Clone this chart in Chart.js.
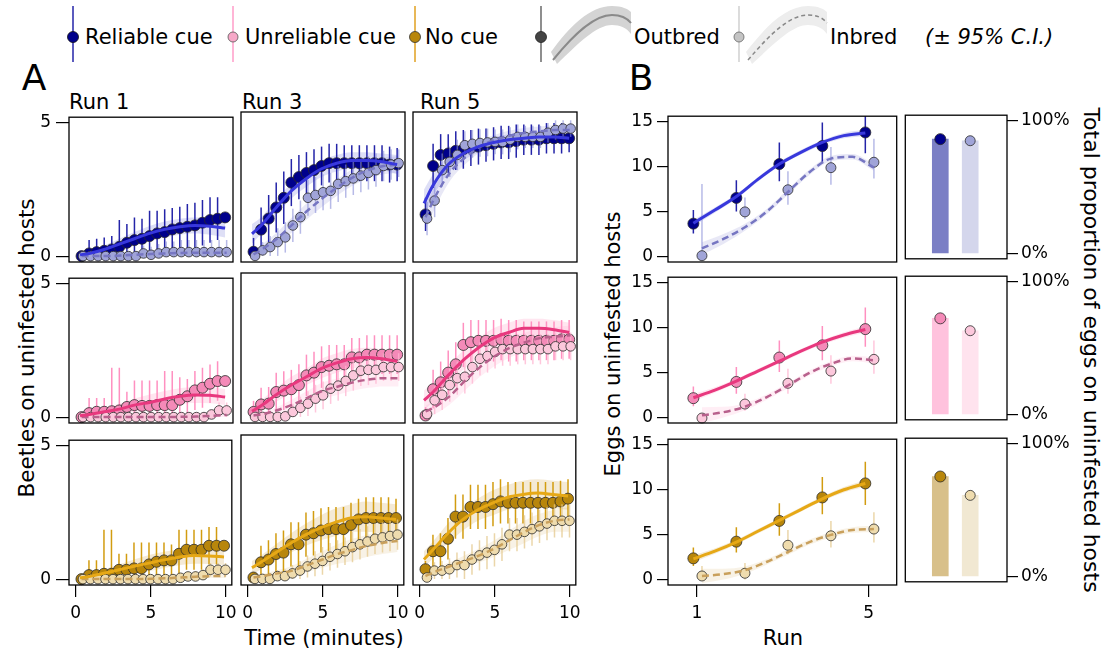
<!DOCTYPE html>
<html>
<head>
<meta charset="utf-8">
<script src="https://cdn.jsdelivr.net/npm/chart.js@4.4.1/dist/chart.umd.min.js"></script>
<style>
  body { margin: 0; width: 1106px; height: 655px; background: #fff; position: relative; overflow: hidden; font-family: "DejaVu Sans", sans-serif; }
  canvas { position: absolute; }
  .t { position: absolute; white-space: nowrap; color: #000; line-height: 1; }
  .c { transform: translate(-50%, -50%); }
  .l { transform: translateY(-50%); }
</style>
</head>
<body>

<svg width="1106" height="66" style="position:absolute;left:0;top:0">
  <line x1="73" y1="6" x2="73" y2="62" stroke="#2424a8" stroke-width="1.5"/>
  <circle cx="73" cy="37" r="5.5" fill="#00008b" stroke="#111" stroke-width="0.8"/>
  <line x1="233" y1="6" x2="233" y2="62" stroke="#ff9cc8" stroke-width="1.5"/>
  <circle cx="233" cy="37" r="5" fill="#f7a8c8" stroke="#555" stroke-width="0.8"/>
  <line x1="415" y1="6" x2="415" y2="62" stroke="#e0a020" stroke-width="1.5"/>
  <circle cx="415" cy="37" r="5.5" fill="#b8860b" stroke="#333" stroke-width="0.8"/>
  <line x1="541" y1="6" x2="541" y2="62" stroke="#444" stroke-width="1.2"/>
  <circle cx="541" cy="37" r="5.5" fill="#444" stroke="#222" stroke-width="0.8"/>
  <path d="M551,52 C570,26 590,6 612,6 C622,6 628,9 631,12 L631,34 C627,28 620,25 612,25 C596,25 578,44 557,64 Z" fill="#d4d4d4"/>
  <path d="M553,60 C574,34 594,15 612,15 C621,15 627,18 631,23" fill="none" stroke="#8a8a8a" stroke-width="2"/>
  <line x1="739" y1="6" x2="739" y2="62" stroke="#c4c4c4" stroke-width="1.2"/>
  <circle cx="739" cy="37" r="5" fill="#c4c4c4" stroke="#666" stroke-width="0.8"/>
  <path d="M746,52 C766,26 786,6 808,6 C818,6 824,9 827,12 L827,34 C823,28 816,25 808,25 C792,25 774,44 752,64 Z" fill="#ededed"/>
  <path d="M748,60 C770,34 790,15 808,15 C817,15 823,18 827,23" fill="none" stroke="#888" stroke-width="1.5" stroke-dasharray="4,3"/>
</svg>
<div class="t l" style="left:85px;top:37px;font-size:21px">Reliable cue</div>
<div class="t l" style="left:245px;top:37px;font-size:21px">Unreliable cue</div>
<div class="t l" style="left:425px;top:37px;font-size:21px">No cue</div>
<div class="t l" style="left:634px;top:37px;font-size:21px">Outbred</div>
<div class="t l" style="left:830px;top:37px;font-size:21px">Inbred</div>
<div class="t l" style="left:925px;top:37px;font-size:21px;font-style:italic">(± 95% C.I.)</div>

<div class="t c" style="left:34px;top:78px;font-size:36px">A</div>
<div class="t c" style="left:641px;top:78px;font-size:36px">B</div>
<div class="t l" style="left:69px;top:102px;font-size:21px">Run 1</div>
<div class="t l" style="left:242px;top:102px;font-size:21px">Run 3</div>
<div class="t l" style="left:420px;top:102px;font-size:21px">Run 5</div>
<div class="t c" style="left:324px;top:638px;font-size:21px">Time (minutes)</div>
<div class="t c" style="left:783px;top:638px;font-size:21px">Run</div>
<div class="t c" style="left:27px;top:348px;font-size:21.5px;transform:translate(-50%,-50%) rotate(-90deg)">Beetles on uninfested hosts</div>
<div class="t c" style="left:613px;top:344px;font-size:21px;transform:translate(-50%,-50%) rotate(-90deg)">Eggs on uninfested hosts</div>
<div class="t c" style="left:1091px;top:350px;font-size:22px;transform:translate(-50%,-50%) rotate(90deg)">Total proportion of eggs on uninfested hosts</div>

<script>
// ---- panel A: time points (minutes) and fitted-curve sample times
const times = [0.5, 1, 1.5, 2, 2.5, 3, 3.5, 4, 4.5, 5, 5.5, 6, 6.5, 7, 7.5, 8, 8.5, 9, 9.5, 10];
const fitTimes = [0.4, 1, 2, 3, 4, 5, 6, 7, 8, 9, 10];

// reliable cue
const relOut1 = [0, 0.1, 0.15, 0.2, 0.25, 0.35, 0.5, 0.6, 0.65, 0.75, 0.85, 0.9, 1.0, 1.05, 1.1, 1.15, 1.25, 1.35, 1.4, 1.45];
const relIn1 = [0, 0, 0, 0, 0, 0, 0, 0, 0.1, 0.05, 0.1, 0.15, 0.15, 0.15, 0.15, 0.15, 0.15, 0.15, 0.15, 0.15];
const relOutErr1 = [0.1, 0.5, 0.5, 0.5, 0.5, 1.0, 0.7, 0.85, 0.75, 0.95, 0.85, 0.85, 0.8, 0.8, 0.85, 0.85, 0.85, 0.85, 0.8, 0.1];
const relInErr1 = [0, 0, 0, 0, 0, 0, 0, 0.1, 0.3, 0.3, 0.35, 0.4, 0.4, 0.45, 0.45, 0.45, 0.45, 0.45, 0.45, 0.45];
const relOutFit1 = [0.05, 0.1, 0.25, 0.45, 0.65, 0.85, 1.0, 1.1, 1.15, 1.12, 1.05];
const relInFit1 = [0, 0, 0, 0.02, 0.05, 0.08, 0.1, 0.12, 0.13, 0.13, 0.13];
const relOutCI1 = [0.1, 0.12, 0.15, 0.2, 0.25, 0.28, 0.3, 0.3, 0.3, 0.32, 0.35];
const relInCI1 = [0.02, 0.02, 0.03, 0.04, 0.05, 0.06, 0.07, 0.08, 0.08, 0.08, 0.08];

const relOut3 = [0.15, 0.95, 1.35, 1.75, 2.1, 2.65, 2.85, 3.0, 3.1, 3.25, 3.35, 3.35, 3.35, 3.35, 3.35, 3.35, 3.35, 3.35, 3.3, 3.3];
const relIn3 = [0, 0.2, 0.32, 0.5, 0.67, 1.1, 1.4, 2.1, 2.2, 2.3, 2.35, 2.6, 2.7, 2.8, 2.9, 3.0, 3.1, 3.25, 3.3, 3.35];
const relOutErr3 = [0.5, 0.8, 0.85, 0.9, 0.95, 0.85, 0.8, 0.75, 0.75, 0.7, 0.7, 0.7, 0.65, 0.65, 0.65, 0.65, 0.65, 0.65, 0.65, 0.6];
const relInErr3 = [0.1, 0.3, 0.4, 0.5, 0.55, 0.6, 0.6, 0.65, 0.65, 0.65, 0.65, 0.65, 0.6, 0.6, 0.6, 0.6, 0.6, 0.55, 0.55, 0.5];
const relOutFit3 = [0.8, 1.1, 1.75, 2.35, 2.8, 3.15, 3.35, 3.45, 3.45, 3.4, 3.3];
const relInFit3 = [0.05, 0.25, 0.65, 1.15, 1.65, 2.1, 2.5, 2.85, 3.1, 3.25, 3.3];
const relOutCI3 = [0.35, 0.3, 0.28, 0.28, 0.3, 0.3, 0.3, 0.3, 0.3, 0.3, 0.35];
const relInCI3 = [0.15, 0.18, 0.22, 0.27, 0.3, 0.3, 0.3, 0.3, 0.3, 0.3, 0.3];

const relOut5 = [1.5, 3.25, 3.65, 3.7, 3.8, 3.85, 3.9, 3.95, 4.0, 4.05, 4.1, 4.1, 4.15, 4.2, 4.2, 4.2, 4.25, 4.25, 4.25, 4.25];
const relIn5 = [1.35, 2.0, 3.1, 3.4, 3.65, 4.0, 4.05, 4.08, 4.1, 4.12, 4.12, 4.2, 4.3, 4.3, 4.3, 4.3, 4.45, 4.55, 4.6, 4.6];
const relOutErr5 = [0.6, 0.8, 0.75, 0.7, 0.7, 0.7, 0.65, 0.65, 0.6, 0.6, 0.6, 0.6, 0.6, 0.55, 0.55, 0.55, 0.55, 0.55, 0.55, 0.5];
const relInErr5 = [0.6, 0.6, 0.6, 0.55, 0.55, 0.5, 0.5, 0.5, 0.5, 0.45, 0.45, 0.45, 0.45, 0.4, 0.4, 0.4, 0.35, 0.35, 0.3, 0.3];
const relOutFit5 = [1.9, 2.55, 3.3, 3.7, 3.95, 4.1, 4.2, 4.25, 4.3, 4.3, 4.25];
const relInFit5 = [1.4, 2.1, 3.0, 3.55, 3.95, 4.2, 4.35, 4.45, 4.5, 4.55, 4.55];
const relOutCI5 = [0.5, 0.4, 0.3, 0.25, 0.2, 0.2, 0.2, 0.2, 0.2, 0.2, 0.22];
const relInCI5 = [0.45, 0.4, 0.3, 0.25, 0.2, 0.18, 0.18, 0.18, 0.18, 0.18, 0.2];

// unreliable cue
const unrOut1 = [0, 0.15, 0.2, 0.2, 0.22, 0.25, 0.38, 0.45, 0.42, 0.42, 0.45, 0.45, 0.45, 0.65, 0.78, 1.0, 1.1, 1.25, 1.35, 1.35];
const unrIn1 = [0, 0, 0, 0, 0, 0, 0, 0, 0, 0, 0, 0, 0, 0, 0, 0, 0, 0.1, 0.25, 0.25];
const unrOutErr1 = [0.1, 0.57, 0.52, 0.52, 1.63, 1.6, 0.57, 0.92, 0.95, 0.95, 0.92, 1.28, 1.28, 0.84, 0.65, 0.73, 0.75, 0.72, 0.74, 0.1];
const unrInErr1 = [0, 0, 0, 0, 0, 0, 0, 0, 0, 0, 0, 0, 0, 0, 0, 0, 0, 0.15, 0.3, 0.3];
const unrOutFit1 = [0.05, 0.1, 0.2, 0.3, 0.45, 0.55, 0.68, 0.78, 0.83, 0.82, 0.75];
const unrInFit1 = [0, 0, 0, 0, 0, 0, 0, 0.01, 0.02, 0.05, 0.08];
const unrOutCI1 = [0.1, 0.1, 0.15, 0.2, 0.25, 0.3, 0.3, 0.3, 0.3, 0.3, 0.3];
const unrInCI1 = [0.02, 0.02, 0.02, 0.02, 0.02, 0.02, 0.03, 0.04, 0.05, 0.06, 0.08];

const unrOut3 = [0.18, 0.45, 0.48, 0.9, 0.95, 1.0, 1.15, 1.5, 1.6, 1.8, 1.85, 1.9, 1.9, 2.15, 2.15, 2.25, 2.25, 2.25, 2.25, 2.25];
const unrIn3 = [0, 0, 0, 0, 0.02, 0.18, 0.33, 0.48, 0.66, 0.78, 1.02, 1.13, 1.3, 1.5, 1.67, 1.7, 1.7, 1.8, 1.8, 1.8];
const unrOutErr3 = [0.4, 0.6, 0.6, 0.7, 0.7, 0.7, 0.75, 0.75, 0.75, 0.75, 0.75, 0.7, 0.7, 0.7, 0.7, 0.7, 0.7, 0.7, 0.7, 0.7];
const unrInErr3 = [0.05, 0.1, 0.1, 0.15, 0.2, 0.3, 0.4, 0.45, 0.5, 0.5, 0.55, 0.55, 0.55, 0.55, 0.55, 0.55, 0.5, 0.5, 0.5, 0.5];
const unrOutFit3 = [0.2, 0.4, 0.8, 1.15, 1.45, 1.75, 1.95, 2.1, 2.15, 2.1, 2.0];
const unrInFit3 = [0.05, 0.1, 0.25, 0.45, 0.7, 0.95, 1.1, 1.25, 1.35, 1.4, 1.4];
const unrOutCI3 = [0.2, 0.2, 0.25, 0.3, 0.3, 0.35, 0.35, 0.35, 0.35, 0.35, 0.35];
const unrInCI3 = [0.05, 0.08, 0.12, 0.2, 0.25, 0.3, 0.3, 0.3, 0.3, 0.3, 0.3];

const unrOut5 = [0.05, 1.0, 1.25, 1.6, 1.9, 2.6, 2.7, 2.75, 2.75, 2.75, 2.8, 2.75, 2.75, 2.75, 2.75, 2.75, 2.75, 2.75, 2.8, 2.8];
const unrIn5 = [0.1, 0.6, 0.8, 1.15, 1.4, 1.45, 1.8, 2.1, 2.2, 2.35, 2.45, 2.45, 2.45, 2.45, 2.45, 2.45, 2.45, 2.55, 2.55, 2.55];
const unrOutErr5 = [0.3, 0.7, 0.75, 0.8, 0.8, 0.8, 0.8, 0.75, 0.75, 0.75, 0.75, 0.75, 0.75, 0.7, 0.7, 0.7, 0.7, 0.7, 0.7, 0.7];
const unrInErr5 = [0.2, 0.5, 0.55, 0.6, 0.6, 0.6, 0.6, 0.6, 0.6, 0.6, 0.6, 0.6, 0.55, 0.55, 0.55, 0.55, 0.55, 0.5, 0.5, 0.5];
const unrOutFit5 = [0.6, 0.9, 1.5, 2.05, 2.5, 2.85, 3.05, 3.2, 3.2, 3.15, 3.05];
const unrInFit5 = [0.2, 0.35, 0.75, 1.3, 1.8, 2.2, 2.5, 2.7, 2.85, 2.9, 2.95];
const unrOutCI5 = [0.35, 0.35, 0.35, 0.35, 0.35, 0.35, 0.35, 0.35, 0.35, 0.35, 0.35];
const unrInCI5 = [0.2, 0.25, 0.3, 0.35, 0.35, 0.35, 0.35, 0.35, 0.35, 0.35, 0.35];

// no cue
const nocOut1 = [0, 0.15, 0.15, 0.2, 0.2, 0.35, 0.35, 0.4, 0.4, 0.55, 0.65, 0.7, 0.7, 0.95, 1.1, 1.1, 1.1, 1.25, 1.25, 1.25];
const nocIn1 = [0, 0, 0, 0, 0, 0, 0, 0, 0, 0, 0, 0, 0, 0.05, 0.1, 0.1, 0.15, 0.35, 0.35, 0.35];
const nocOutErr1 = [0.1, 0.56, 0.56, 1.65, 1.65, 0.6, 0.6, 0.97, 0.97, 0.82, 0.72, 0.67, 0.6, 0.9, 0.75, 0.75, 0.75, 0.7, 0.7, 0.1];
const nocInErr1 = [0, 0, 0, 0, 0, 0, 0, 0, 0, 0, 0, 0, 0, 0.1, 0.15, 0.2, 0.2, 0.25, 0.25, 0.25];
const nocOutFit1 = [0.05, 0.1, 0.22, 0.35, 0.48, 0.6, 0.72, 0.82, 0.88, 0.87, 0.83];
const nocInFit1 = [0, 0, 0, 0, 0, 0.01, 0.03, 0.06, 0.09, 0.11, 0.12];
const nocOutCI1 = [0.1, 0.1, 0.15, 0.2, 0.25, 0.3, 0.3, 0.3, 0.3, 0.3, 0.3];
const nocInCI1 = [0.02, 0.02, 0.02, 0.02, 0.02, 0.03, 0.04, 0.05, 0.06, 0.07, 0.08];

const nocOut3 = [0.05, 0.6, 0.7, 0.9, 0.95, 1.25, 1.25, 1.6, 1.65, 1.75, 1.8, 1.8, 1.8, 1.95, 2.15, 2.2, 2.2, 2.2, 2.2, 2.2];
const nocIn3 = [0, 0, 0, 0.1, 0.1, 0.2, 0.3, 0.45, 0.55, 0.65, 0.8, 0.9, 1.0, 1.15, 1.25, 1.35, 1.45, 1.5, 1.55, 1.6];
const nocOutErr3 = [0.2, 0.6, 0.7, 0.75, 0.8, 0.8, 0.8, 0.8, 0.8, 0.8, 0.8, 0.8, 0.8, 0.8, 0.75, 0.75, 0.75, 0.75, 0.75, 0.7];
const nocInErr3 = [0.05, 0.1, 0.1, 0.2, 0.25, 0.3, 0.35, 0.4, 0.45, 0.5, 0.5, 0.5, 0.5, 0.55, 0.55, 0.55, 0.55, 0.55, 0.55, 0.55];
const nocOutFit3 = [0.4, 0.6, 0.95, 1.3, 1.6, 1.85, 2.05, 2.2, 2.25, 2.2, 2.15];
const nocInFit3 = [0.05, 0.1, 0.2, 0.3, 0.5, 0.7, 0.9, 1.05, 1.2, 1.3, 1.37];
const nocOutCI3 = [0.25, 0.25, 0.3, 0.35, 0.4, 0.45, 0.5, 0.5, 0.55, 0.55, 0.55];
const nocInCI3 = [0.05, 0.08, 0.12, 0.18, 0.25, 0.3, 0.35, 0.4, 0.4, 0.4, 0.4];

const nocOut5 = [0.35, 1.0, 1.0, 1.45, 2.25, 2.25, 2.6, 2.6, 2.6, 2.7, 2.8, 2.75, 2.75, 2.75, 2.75, 2.75, 2.75, 2.75, 2.8, 2.9];
const nocIn5 = [0.05, 0.3, 0.3, 0.35, 0.5, 0.5, 0.7, 0.85, 0.95, 1.05, 1.25, 1.6, 1.6, 1.7, 1.8, 1.9, 2.0, 2.1, 2.1, 2.1];
const nocOutErr5 = [0.3, 0.6, 0.65, 0.75, 0.8, 0.8, 0.8, 0.8, 0.8, 0.8, 0.8, 0.75, 0.75, 0.75, 0.75, 0.75, 0.75, 0.75, 0.75, 0.7];
const nocInErr5 = [0.1, 0.3, 0.35, 0.4, 0.45, 0.5, 0.55, 0.55, 0.6, 0.6, 0.6, 0.6, 0.6, 0.6, 0.6, 0.6, 0.6, 0.6, 0.6, 0.6];
const nocOutFit5 = [0.7, 1.05, 1.65, 2.15, 2.5, 2.75, 2.95, 3.05, 3.1, 3.05, 3.0];
const nocInFit5 = [0.1, 0.25, 0.45, 0.65, 0.85, 1.1, 1.4, 1.7, 1.95, 2.1, 2.15];
const nocOutCI5 = [0.3, 0.3, 0.35, 0.4, 0.4, 0.45, 0.45, 0.5, 0.5, 0.5, 0.5];
const nocInCI5 = [0.1, 0.12, 0.15, 0.2, 0.25, 0.3, 0.35, 0.4, 0.4, 0.4, 0.45];

// ---- panel B: eggs per run
const runs = [1, 2, 3, 4, 5];
const fitRuns = [1, 1.5, 2, 2.5, 3, 3.5, 4, 4.5, 5];

const relEggOut = [3.7, 6.55, 10.3, 12.3, 13.8];
const relEggOutLo = [2.6, 5.05, 8.4, 10.5, 11.5];
const relEggOutHi = [5.2, 8.5, 12.7, 14.9, 15.7];
const relEggIn = [0.15, 5.0, 7.45, 9.9, 10.5];
const relEggInLo = [0, 4.2, 5.8, 8.0, 8.7];
const relEggInHi = [8.1, 6.6, 9.5, 12.2, 13.1];
const relEggOutFit = [3.75, 5.2, 6.7, 8.6, 10.3, 11.6, 12.7, 13.45, 13.75];
const relEggInFit = [0.95, 2.0, 3.3, 5.0, 7.2, 9.4, 10.9, 11.1, 9.9];
const relEggOutCI = [0.35, 0.3, 0.25, 0.25, 0.25, 0.25, 0.25, 0.3, 0.35];
const relEggInCI = [0.7, 0.55, 0.4, 0.3, 0.3, 0.3, 0.3, 0.3, 0.35];

const unrEggOut = [2.2, 4.0, 6.7, 8.05, 9.85];
const unrEggOutLo = [1.3, 2.7, 5.1, 6.4, 7.9];
const unrEggOutHi = [3.5, 5.65, 8.6, 10.2, 12.25];
const unrEggIn = [0.0, 1.55, 3.85, 5.2, 6.5];
const unrEggInLo = [0, 0.8, 2.7, 3.8, 4.9];
const unrEggInHi = [0.4, 2.7, 5.45, 6.95, 8.6];
const unrEggOutFit = [2.25, 3.1, 4.1, 5.2, 6.3, 7.4, 8.4, 9.2, 9.8];
const unrEggInFit = [0.3, 0.65, 1.25, 2.3, 3.6, 5.0, 6.0, 6.6, 6.4];
const unrEggOutCI = [0.4, 0.3, 0.25, 0.25, 0.25, 0.25, 0.25, 0.3, 0.35];
const unrEggInCI = [0.9, 0.6, 0.4, 0.3, 0.3, 0.3, 0.3, 0.3, 0.35];

const nocEggOut = [2.4, 4.25, 6.55, 9.15, 10.7];
const nocEggOutLo = [1.55, 3.05, 4.9, 7.3, 8.3];
const nocEggOutHi = [3.6, 5.85, 8.5, 11.4, 13.1];
const nocEggIn = [0.45, 0.75, 3.85, 4.9, 5.65];
const nocEggInLo = [0.05, 0.05, 2.85, 3.6, 4.15];
const nocEggInHi = [1.55, 1.9, 5.55, 6.55, 7.5];
const nocEggOutFit = [2.35, 3.2, 4.2, 5.4, 6.6, 7.8, 9.0, 10.0, 10.7];
const nocEggInFit = [0.45, 0.65, 1.1, 2.0, 3.1, 4.2, 5.0, 5.55, 5.65];
const nocEggOutCI = [0.4, 0.3, 0.25, 0.25, 0.25, 0.25, 0.25, 0.3, 0.35];
const nocEggInCI = [0.8, 0.6, 0.4, 0.3, 0.3, 0.3, 0.3, 0.3, 0.35];

// total proportion of eggs on uninfested hosts (%), [outbred, inbred]
const relProp = [86, 84.8];
const unrProp = [72.3, 63];
const nocProp = [75.2, 61];
const relPropErr = [1.5, 1.5];
const unrPropErr = [2, 2.5];
const nocPropErr = [2.5, 3];

// ---- styles
const styles = {
  rel: { ptOut: '#00008b', ptIn: '#a0a4d8', errOut: '#2424a8', errIn: 'rgba(135,140,215,0.6)',
         fitOut: '#3838dc', fitIn: '#7676c2', bandOut: 'rgba(90,95,210,0.2)', bandIn: 'rgba(130,130,205,0.18)',
         barOut: '#7b7fc5', barIn: '#d4d6ec' },
  unr: { ptOut: '#f48ab8', ptIn: '#fcc8dc', errOut: '#ff90c0', errIn: 'rgba(255,180,208,0.75)',
         fitOut: '#e8387e', fitIn: '#b8608c', bandOut: 'rgba(255,140,185,0.22)', bandIn: 'rgba(255,170,205,0.2)',
         barOut: '#ffc2dd', barIn: '#ffe3ee' },
  noc: { ptOut: '#b8860b', ptIn: '#efdcae', errOut: '#d29c10', errIn: 'rgba(228,200,140,0.75)',
         fitOut: '#e6a816', fitIn: '#c9a05c', bandOut: 'rgba(210,170,90,0.25)', bandIn: 'rgba(220,190,130,0.2)',
         barOut: '#d8c08a', barIn: '#f1e8d2' }
};

const FONT = { family: 'DejaVu Sans', size: 17 };

// error bars under each point dataset
const errPlugin = {
  id: 'errbars',
  beforeDatasetDraw(chart, args) {
    const ds = chart.data.datasets[args.index];
    if (!ds.errLo) return;
    const { ctx, chartArea: a } = chart;
    const ys = chart.scales.y;
    ctx.save();
    ctx.beginPath();
    ctx.rect(a.left, a.top, a.right - a.left, a.bottom - a.top);
    ctx.clip();
    ctx.strokeStyle = ds.errColor;
    ctx.lineWidth = ds.errWidth || 1.5;
    args.meta.data.forEach((p, i) => {
      ctx.beginPath();
      ctx.moveTo(p.x, ys.getPixelForValue(ds.errLo[i]));
      ctx.lineTo(p.x, ys.getPixelForValue(ds.errHi[i]));
      ctx.stroke();
    });
    ctx.restore();
  }
};

// black box round the plot region
const framePlugin = {
  id: 'frame',
  afterDraw(chart) {
    const { ctx, chartArea: a } = chart;
    ctx.save();
    ctx.strokeStyle = '#000';
    ctx.lineWidth = 1.3;
    ctx.strokeRect(a.left, a.top, a.right - a.left, a.bottom - a.top);
    ctx.restore();
  }
};

function makeCanvas(left, top, w, h) {
  const c = document.createElement('canvas');
  c.width = w; c.height = h;
  c.style.left = left + 'px'; c.style.top = top + 'px';
  c.style.width = w + 'px'; c.style.height = h + 'px';
  document.body.appendChild(c);
  return c;
}

function axis(min, max, tickVals, show, horizontal, size, tickLen, pad, extra) {
  const cfg = {
    type: 'linear', min, max, display: show,
    afterBuildTicks: s => { s.ticks = tickVals.map(v => ({ value: v })); },
    grid: { drawOnChartArea: false, drawTicks: true, tickLength: tickLen, color: '#000', lineWidth: 1.2 },
    border: { display: false },
    ticks: { color: '#000', font: FONT, padding: pad, maxRotation: 0, autoSkip: false }
  };
  if (show) cfg.afterFit = s => { if (horizontal) s.height = size; else s.width = size; };
  return Object.assign(cfg, extra || {});
}

function band(xs, fit, ci, shift, color) {
  return [
    { data: xs.map((x, i) => ({ x: x + shift, y: fit[i] - ci[i] })), borderWidth: 0, pointRadius: 0,
      fill: false, cubicInterpolationMode: 'monotone', order: 10 },
    { data: xs.map((x, i) => ({ x: x + shift, y: fit[i] + ci[i] })), borderWidth: 0, pointRadius: 0,
      fill: '-1', backgroundColor: color, cubicInterpolationMode: 'monotone', order: 10 }
  ];
}

function points(xs, vals, lo, hi, shift, fillCol, errCol, r, order) {
  return {
    data: xs.map((x, i) => ({ x: x + shift, y: vals[i] })), showLine: false,
    pointRadius: r, pointBackgroundColor: fillCol, pointBorderColor: '#2a2a2a', pointBorderWidth: 0.8,
    errLo: lo, errHi: hi, errColor: errCol, clip: 8, order
  };
}

function fitLine(xs, fit, shift, color, dashed, order) {
  return {
    data: xs.map((x, i) => ({ x: x + shift, y: fit[i] })), borderColor: color, borderWidth: dashed ? 2.5 : 3,
    borderDash: dashed ? [7, 4] : [], pointRadius: 0, fill: false, cubicInterpolationMode: 'monotone', order
  };
}

const common = {
  responsive: false, animation: false, devicePixelRatio: 1, events: [],
  plugins: { legend: { display: false }, tooltip: { enabled: false } }
};

const colX = [69, 241, 413];
const rowY = [112, 273, 435];
const BOX_W = 164, BOX_H = 150;

const panelsA = [
  { row: 0, col: 0, s: 'rel', out: relOut1, inn: relIn1, oe: relOutErr1, ie: relInErr1, of: relOutFit1, inf: relInFit1, oc: relOutCI1, ic: relInCI1 },
  { row: 0, col: 1, s: 'rel', out: relOut3, inn: relIn3, oe: relOutErr3, ie: relInErr3, of: relOutFit3, inf: relInFit3, oc: relOutCI3, ic: relInCI3 },
  { row: 0, col: 2, s: 'rel', out: relOut5, inn: relIn5, oe: relOutErr5, ie: relInErr5, of: relOutFit5, inf: relInFit5, oc: relOutCI5, ic: relInCI5 },
  { row: 1, col: 0, s: 'unr', out: unrOut1, inn: unrIn1, oe: unrOutErr1, ie: unrInErr1, of: unrOutFit1, inf: unrInFit1, oc: unrOutCI1, ic: unrInCI1 },
  { row: 1, col: 1, s: 'unr', out: unrOut3, inn: unrIn3, oe: unrOutErr3, ie: unrInErr3, of: unrOutFit3, inf: unrInFit3, oc: unrOutCI3, ic: unrInCI3 },
  { row: 1, col: 2, s: 'unr', out: unrOut5, inn: unrIn5, oe: unrOutErr5, ie: unrInErr5, of: unrOutFit5, inf: unrInFit5, oc: unrOutCI5, ic: unrInCI5 },
  { row: 2, col: 0, s: 'noc', out: nocOut1, inn: nocIn1, oe: nocOutErr1, ie: nocInErr1, of: nocOutFit1, inf: nocInFit1, oc: nocOutCI1, ic: nocInCI1 },
  { row: 2, col: 1, s: 'noc', out: nocOut3, inn: nocIn3, oe: nocOutErr3, ie: nocInErr3, of: nocOutFit3, inf: nocInFit3, oc: nocOutCI3, ic: nocInCI3 },
  { row: 2, col: 2, s: 'noc', out: nocOut5, inn: nocIn5, oe: nocOutErr5, ie: nocInErr5, of: nocOutFit5, inf: nocInFit5, oc: nocOutCI5, ic: nocInCI5 }
];

// Panel A: beetles over time
function drawPanelA(p) {
  const st = styles[p.s];
  const showY = p.col === 0, showX = p.row === 2;
  const M = { l: 62, t: 10, r: 10, b: 52 };
  const x0 = colX[p.col], y0 = rowY[p.row];
  const cv = makeCanvas(x0 - M.l, y0 - M.t, BOX_W + M.l + M.r, BOX_H + M.t + M.b);
  const so = -0.12, si = -0.02;
  new Chart(cv, {
    type: 'line',
    data: {
      datasets: [
        ...band(fitTimes, p.of, p.oc, so, st.bandOut),
        ...band(fitTimes, p.inf, p.ic, si, st.bandIn),
        points(times, p.out, p.out.map((v, i) => Math.max(0, v - p.oe[i])), p.out.map((v, i) => v + p.oe[i]), so, st.ptOut, st.errOut, 5.5, 6),
        points(times, p.inn, p.inn.map((v, i) => Math.max(0, v - p.ie[i])), p.inn.map((v, i) => v + p.ie[i]), si, st.ptIn, st.errIn, 4.8, 5),
        fitLine(fitTimes, p.inf, si, st.fitIn, true, 2),
        fitLine(fitTimes, p.of, so, st.fitOut, false, 1)
      ]
    },
    options: Object.assign({}, common, {
      layout: { padding: { left: showY ? 0 : M.l, top: M.t, right: M.r, bottom: showX ? 0 : M.b } },
      scales: {
        x: axis(-0.45, 10.4, [0, 5, 10], showX, true, M.b, 12, 6),
        y: axis(-0.22, 5.2, [0, 5], showY, false, M.l, 13, 5)
      }
    }),
    plugins: [errPlugin, framePlugin]
  });
}
panelsA.forEach(drawPanelA);

// Panel B: eggs per run, plus total proportion bars
const panelsB = [
  { row: 0, s: 'rel', out: relEggOut, olo: relEggOutLo, ohi: relEggOutHi, inn: relEggIn, ilo: relEggInLo, ihi: relEggInHi,
    of: relEggOutFit, inf: relEggInFit, oc: relEggOutCI, ic: relEggInCI, prop: relProp, perr: relPropErr },
  { row: 1, s: 'unr', out: unrEggOut, olo: unrEggOutLo, ohi: unrEggOutHi, inn: unrEggIn, ilo: unrEggInLo, ihi: unrEggInHi,
    of: unrEggOutFit, inf: unrEggInFit, oc: unrEggOutCI, ic: unrEggInCI, prop: unrProp, perr: unrPropErr },
  { row: 2, s: 'noc', out: nocEggOut, olo: nocEggOutLo, ohi: nocEggOutHi, inn: nocEggIn, ilo: nocEggInLo, ihi: nocEggInHi,
    of: nocEggOutFit, inf: nocEggInFit, oc: nocEggOutCI, ic: nocEggInCI, prop: nocProp, perr: nocPropErr }
];

function drawPanelB(p) {
  const st = styles[p.s];
  const showX = p.row === 2;
  const M = { l: 60, t: 10, r: 6, b: 52 };
  const bx = 668, bw = 229, y0 = rowY[p.row];
  const cv = makeCanvas(bx - M.l, y0 - M.t, bw + M.l + M.r, BOX_H + M.t + M.b);
  const so = -0.08, si = 0.12;
  new Chart(cv, {
    type: 'line',
    data: {
      datasets: [
        ...band(fitRuns, p.of, p.oc, so, st.bandOut),
        ...band(fitRuns, p.inf, p.ic, si, st.bandIn),
        points(runs, p.out, p.olo, p.ohi, so, st.ptOut, st.errOut, 5.5, 6),
        points(runs, p.inn, p.ilo, p.ihi, si, st.ptIn, st.errIn, 5, 5),
        fitLine(fitRuns, p.inf, si, st.fitIn, true, 2),
        fitLine(fitRuns, p.of, so, st.fitOut, false, 1)
      ]
    },
    options: Object.assign({}, common, {
      layout: { padding: { left: 0, top: M.t, right: M.r, bottom: showX ? 0 : M.b } },
      scales: {
        x: axis(0.33, 5.65, [1, 5], showX, true, M.b, 12, 6),
        y: axis(-0.55, 15.6, [0, 5, 10, 15], true, false, M.l, 11, 4)
      }
    }),
    plugins: [errPlugin, framePlugin]
  });

  // proportion bars
  const px = 905, pw = 102;
  const PM = { l: 6, t: 10, r: 90, b: 10 };
  const cv2 = makeCanvas(px - PM.l, y0 - PM.t, pw + PM.l + PM.r, BOX_H + PM.t + PM.b);
  const groupX = [1, 2];
  new Chart(cv2, {
    type: 'bar',
    data: {
      datasets: [
        { type: 'bar', data: groupX.map((x, i) => ({ x, y: p.prop[i] })), backgroundColor: [st.barOut, st.barIn],
          barThickness: 16, borderWidth: 0, order: 5 },
        Object.assign(points([groupX[0]], [p.prop[0]], [p.prop[0] - p.perr[0]], [p.prop[0] + p.perr[0]], 0, st.ptOut, st.errOut, 5.5, 2), { type: 'line' }),
        Object.assign(points([groupX[1]], [p.prop[1]], [p.prop[1] - p.perr[1]], [p.prop[1] + p.perr[1]], 0, st.ptIn, st.errIn, 5, 1), { type: 'line' })
      ]
    },
    options: Object.assign({}, common, {
      layout: { padding: { left: PM.l, top: PM.t, right: 0, bottom: PM.b } },
      scales: {
        x: { type: 'linear', min: -0.17, max: 3.23, display: false, offset: false, grid: { offset: false } },
        y: axis(-4, 104, [0, 100], true, false, PM.r, 11, 3, {
          position: 'right',
          ticks: { color: '#000', font: FONT, padding: 3, callback: v => v + '%' }
        })
      }
    }),
    plugins: [errPlugin, framePlugin]
  });
}
panelsB.forEach(drawPanelB);
</script>
</body>
</html>
